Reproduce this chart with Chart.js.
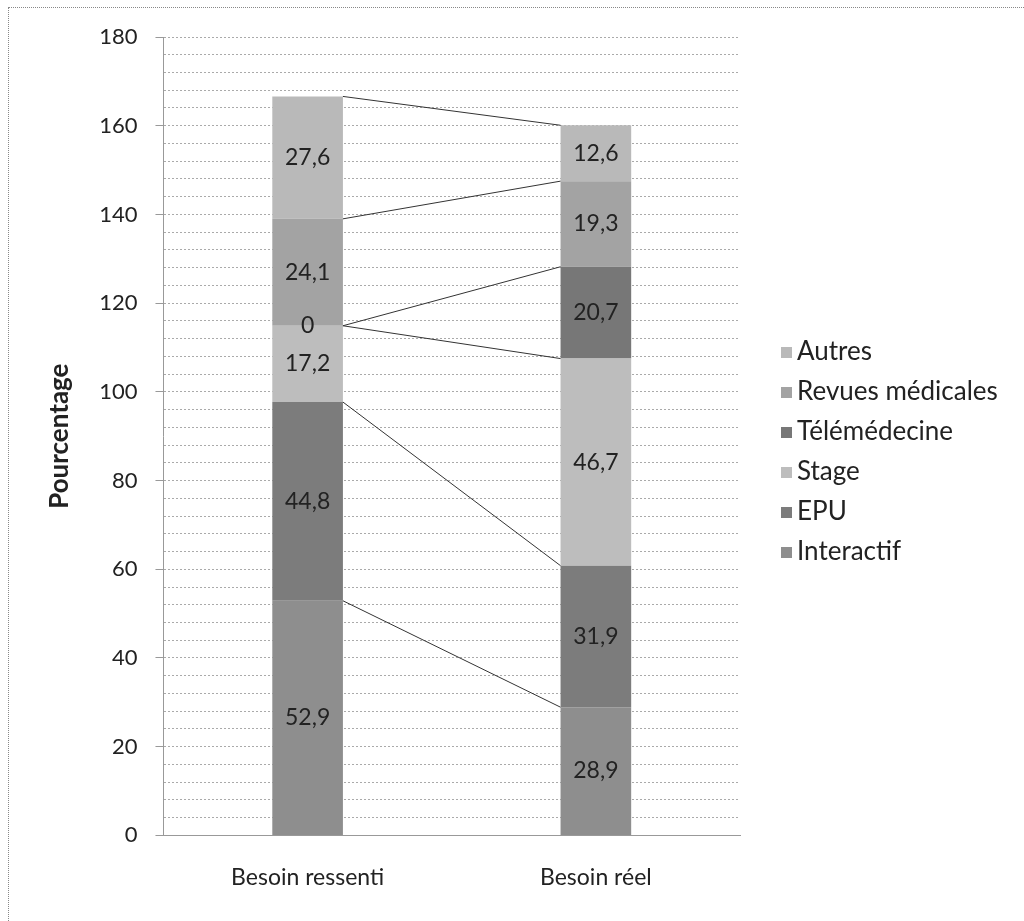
<!DOCTYPE html>
<html>
<head>
<meta charset="utf-8">
<script src="https://cdn.jsdelivr.net/npm/chart.js@4.4.0/dist/chart.umd.min.js"></script>
<style>
    html, body { margin: 0; padding: 0; background: #fff; }
    #wrap { position: absolute; left: 0; top: 0; width: 1024px; height: 921px; }
    #frame { position: absolute; left: 8px; top: 7px; right: 0; bottom: 0;
             border-left: 1px dotted #888; border-top: 1px dotted #888; }
    canvas { position: absolute; left: 0; top: 0; }
    #legend { position: absolute; left: 781px; top: 335px; font-family: Lato, "Open Sans", sans-serif;
              font-size: 26px; color: #222; }
    #legend div { height: 40px; line-height: 30px; white-space: nowrap; }
    #legend span { display: inline-block; width: 11px; height: 11px; margin-right: 5px; vertical-align: 2px; }
</style>
</head>
<body>
<div id="wrap">
    <div id="frame"></div>
    <canvas id="besoins" width="1024" height="921"></canvas>
    <div id="legend"></div>
</div>
<script>
// categories
const BESOINS = ['Besoin ressenti', 'Besoin réel'];

// series, bottom to top
const SERIES = ['Interactif', 'EPU', 'Stage', 'Télémédecine', 'Revues médicales', 'Autres'];
const INTERACTIF   = [52.9, 28.9];
const EPU          = [44.8, 31.9];
const STAGE        = [17.2, 46.7];
const TELEMEDECINE = [0, 20.7];
const REVUES       = [24.1, 19.3];
const AUTRES       = [27.6, 12.6];

// y axis
const Y_MAX = 180;
const Y_STEP = 4;
const Y_LABEL_STEP = 20;

// grey shades, same order as SERIES
const SHADES = ['#8e8e8e', '#7c7c7c', '#bdbdbd', '#777777', '#a3a3a3', '#b9b9b9'];

const FONT = 'Lato, "Open Sans", sans-serif';

function build_data() {
    const values = [INTERACTIF, EPU, STAGE, TELEMEDECINE, REVUES, AUTRES];
    return {
        labels: BESOINS,
        datasets: SERIES.map((name, i) => ({
            label: name,
            data: values[i],
            backgroundColor: SHADES[i],
            borderWidth: 0,
            categoryPercentage: 1,
            barPercentage: 0.245
        }))
    };
}

// legend on the right, top entry = top segment
function build_legend() {
    const box = document.getElementById('legend');
    for (let i = SERIES.length - 1; i >= 0; i--) {
        const row = document.createElement('div');
        const sw = document.createElement('span');
        sw.style.background = SHADES[i];
        row.appendChild(sw);
        row.appendChild(document.createTextNode(SERIES[i]));
        box.appendChild(row);
    }
}

// thin lines joining the top of each segment from one bar to the next
const seriesLines = {
    id: 'seriesLines',
    afterDatasetsDraw(chart) {
        const ctx = chart.ctx;
        ctx.save();
        ctx.strokeStyle = '#333';
        ctx.lineWidth = 1;
        chart.data.datasets.forEach((ds, i) => {
            const bars = chart.getDatasetMeta(i).data;
            for (let k = 0; k < bars.length - 1; k++) {
                const a = bars[k], b = bars[k + 1];
                ctx.beginPath();
                ctx.moveTo(a.x + a.width / 2, a.y);
                ctx.lineTo(b.x - b.width / 2, b.y);
                ctx.stroke();
            }
        });
        ctx.restore();
    }
};

// value written in the middle of each segment, French decimal comma
const segmentLabels = {
    id: 'segmentLabels',
    afterDatasetsDraw(chart) {
        const ctx = chart.ctx;
        ctx.save();
        ctx.font = '23px ' + FONT;
        ctx.fillStyle = '#222';
        ctx.textAlign = 'center';
        ctx.textBaseline = 'middle';
        chart.data.datasets.forEach((ds, i) => {
            chart.getDatasetMeta(i).data.forEach((bar, k) => {
                const txt = String(ds.data[k]).replace('.', ',');
                ctx.fillText(txt, bar.x, (bar.y + bar.base) / 2);
            });
        });
        ctx.restore();
    }
};

window.onload = () => {
    build_legend();
    new Chart(document.getElementById('besoins'), {
        type: 'bar',
        data: build_data(),
        plugins: [seriesLines, segmentLabels],
        options: {
            responsive: false,
            animation: false,
            layout: { padding: { left: 10, top: 37, right: 284, bottom: 10 } },
            plugins: {
                tooltip: { enabled: false },
                legend: { display: false }
            },
            scales: {
                x: {
                    stacked: true,
                    grid: { display: false },
                    border: { display: true, color: '#999', dash: [2, 2] },
                    ticks: { color: '#222', padding: 20, font: { family: FONT, size: 23 } }
                },
                y: {
                    stacked: true,
                    min: 0,
                    max: Y_MAX,
                    border: { display: true, color: '#999', dash: [2, 2] },
                    grid: {
                        color: '#aaa',
                        tickLength: 8,
                        tickColor: c => c.tick && c.tick.value % Y_LABEL_STEP === 0 ? '#999' : 'rgba(0,0,0,0)',
                        borderDash: [2, 2]
                    },
                    title: {
                        display: true,
                        text: 'Pourcentage',
                        color: '#222',
                        font: { family: FONT, size: 26, weight: 'bold' },
                        padding: { top: 34, bottom: 6 }
                    },
                    ticks: {
                        stepSize: Y_STEP,
                        autoSkip: false,
                        maxTicksLimit: 100,
                        padding: 18,
                        color: '#222',
                        font: { family: FONT, size: 22 },
                        callback: v => v % Y_LABEL_STEP === 0 ? v : ''
                    }
                }
            }
        }
    });
};
</script>
</body>
</html>
